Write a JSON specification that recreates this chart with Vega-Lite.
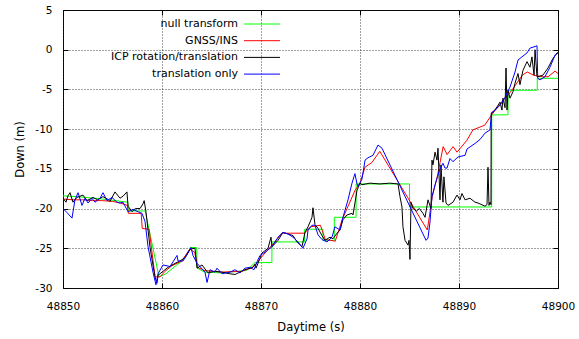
{
  "$schema": "https://vega.github.io/schema/vega-lite/v6.json",
  "width": 495,
  "height": 278,
  "autosize": {"type": "none"},
  "padding": {"left": 63, "top": 10, "right": 21, "bottom": 51},
  "background": "white",
  "config": {
    "font": "DejaVu Sans",
    "view": {"stroke": "black", "strokeWidth": 1},
    "axis": {
      "labelFont": "DejaVu Sans", "labelFontSize": 10.5, "labelColor": "black",
      "titleFont": "DejaVu Sans", "titleFontSize": 11.5, "titleFontWeight": "normal", "titleColor": "black",
      "domain": false, "tickColor": "black", "tickSize": -5,
      "grid": true, "gridColor": "#222222", "gridDash": [1, 2], "gridOpacity": 0.85
    }
  },
  "data": {"values": [
    {"s":"null transform","t":48850.0,"v":-18.4},
    {"s":"null transform","t":48851.5,"v":-18.5},
    {"s":"null transform","t":48854.0,"v":-18.8},
    {"s":"null transform","t":48856.55,"v":-19.2},
    {"s":"null transform","t":48856.6,"v":-20.3},
    {"s":"null transform","t":48858.3,"v":-20.3},
    {"s":"null transform","t":48859.7,"v":-28.6},
    {"s":"null transform","t":48860.4,"v":-28.2},
    {"s":"null transform","t":48861.0,"v":-27.6},
    {"s":"null transform","t":48862.0,"v":-26.6},
    {"s":"null transform","t":48862.8,"v":-25.2},
    {"s":"null transform","t":48862.85,"v":-24.9},
    {"s":"null transform","t":48863.5,"v":-24.9},
    {"s":"null transform","t":48863.55,"v":-27.5},
    {"s":"null transform","t":48864.3,"v":-28.0},
    {"s":"null transform","t":48866.0,"v":-28.1},
    {"s":"null transform","t":48868.5,"v":-27.8},
    {"s":"null transform","t":48869.4,"v":-26.8},
    {"s":"null transform","t":48871.1,"v":-26.8},
    {"s":"null transform","t":48871.11,"v":-24.2},
    {"s":"null transform","t":48874.4,"v":-24.2},
    {"s":"null transform","t":48874.41,"v":-22.6},
    {"s":"null transform","t":48876.25,"v":-22.6},
    {"s":"null transform","t":48876.26,"v":-24.0},
    {"s":"null transform","t":48877.4,"v":-24.0},
    {"s":"null transform","t":48877.41,"v":-21.1},
    {"s":"null transform","t":48879.6,"v":-21.1},
    {"s":"null transform","t":48879.61,"v":-16.9},
    {"s":"null transform","t":48885.0,"v":-16.9},
    {"s":"null transform","t":48885.01,"v":-19.8},
    {"s":"null transform","t":48893.3,"v":-19.8},
    {"s":"null transform","t":48893.31,"v":-8.2},
    {"s":"null transform","t":48894.95,"v":-8.2},
    {"s":"null transform","t":48894.96,"v":-5.1},
    {"s":"null transform","t":48897.9,"v":-5.1},
    {"s":"null transform","t":48897.91,"v":-3.6},
    {"s":"null transform","t":48900.0,"v":-3.6},

    {"s":"GNSS/INS","t":48850.0,"v":-18.8},
    {"s":"GNSS/INS","t":48851.0,"v":-18.9},
    {"s":"GNSS/INS","t":48852.0,"v":-18.9},
    {"s":"GNSS/INS","t":48853.0,"v":-19.0},
    {"s":"GNSS/INS","t":48854.0,"v":-19.0},
    {"s":"GNSS/INS","t":48855.0,"v":-19.1},
    {"s":"GNSS/INS","t":48855.8,"v":-19.3},
    {"s":"GNSS/INS","t":48856.5,"v":-19.6},
    {"s":"GNSS/INS","t":48856.6,"v":-20.6},
    {"s":"GNSS/INS","t":48857.9,"v":-20.6},
    {"s":"GNSS/INS","t":48858.0,"v":-22.5},
    {"s":"GNSS/INS","t":48858.7,"v":-22.6},
    {"s":"GNSS/INS","t":48859.3,"v":-28.6},
    {"s":"GNSS/INS","t":48859.8,"v":-28.6},
    {"s":"GNSS/INS","t":48860.3,"v":-27.9},
    {"s":"GNSS/INS","t":48861.0,"v":-27.2},
    {"s":"GNSS/INS","t":48862.0,"v":-26.6},
    {"s":"GNSS/INS","t":48862.8,"v":-25.1},
    {"s":"GNSS/INS","t":48863.3,"v":-25.5},
    {"s":"GNSS/INS","t":48863.6,"v":-27.4},
    {"s":"GNSS/INS","t":48864.3,"v":-27.8},
    {"s":"GNSS/INS","t":48866.0,"v":-28.0},
    {"s":"GNSS/INS","t":48868.0,"v":-27.9},
    {"s":"GNSS/INS","t":48869.0,"v":-27.5},
    {"s":"GNSS/INS","t":48869.4,"v":-27.1},
    {"s":"GNSS/INS","t":48870.4,"v":-25.6},
    {"s":"GNSS/INS","t":48871.4,"v":-24.2},
    {"s":"GNSS/INS","t":48872.1,"v":-23.1},
    {"s":"GNSS/INS","t":48873.0,"v":-23.1},
    {"s":"GNSS/INS","t":48874.4,"v":-23.1},
    {"s":"GNSS/INS","t":48875.0,"v":-22.3},
    {"s":"GNSS/INS","t":48876.0,"v":-22.1},
    {"s":"GNSS/INS","t":48876.5,"v":-23.9},
    {"s":"GNSS/INS","t":48877.5,"v":-24.1},
    {"s":"GNSS/INS","t":48878.2,"v":-21.4},
    {"s":"GNSS/INS","t":48879.5,"v":-17.7},
    {"s":"GNSS/INS","t":48880.0,"v":-16.8},
    {"s":"GNSS/INS","t":48880.5,"v":-14.8},
    {"s":"GNSS/INS","t":48881.2,"v":-14.2},
    {"s":"GNSS/INS","t":48882.0,"v":-12.8},
    {"s":"GNSS/INS","t":48886.8,"v":-22.7},
    {"s":"GNSS/INS","t":48887.3,"v":-18.5},
    {"s":"GNSS/INS","t":48887.8,"v":-16.0},
    {"s":"GNSS/INS","t":48888.4,"v":-12.2},
    {"s":"GNSS/INS","t":48888.8,"v":-13.2},
    {"s":"GNSS/INS","t":48889.4,"v":-12.2},
    {"s":"GNSS/INS","t":48889.8,"v":-12.9},
    {"s":"GNSS/INS","t":48890.8,"v":-11.4},
    {"s":"GNSS/INS","t":48891.4,"v":-10.1},
    {"s":"GNSS/INS","t":48892.6,"v":-9.5},
    {"s":"GNSS/INS","t":48893.3,"v":-8.2},
    {"s":"GNSS/INS","t":48894.3,"v":-6.6},
    {"s":"GNSS/INS","t":48895.35,"v":-5.1},
    {"s":"GNSS/INS","t":48896.4,"v":-3.2},
    {"s":"GNSS/INS","t":48896.9,"v":-2.8},
    {"s":"GNSS/INS","t":48897.5,"v":-3.2},
    {"s":"GNSS/INS","t":48898.4,"v":-3.4},
    {"s":"GNSS/INS","t":48899.0,"v":-3.4},
    {"s":"GNSS/INS","t":48899.7,"v":-2.7},
    {"s":"GNSS/INS","t":48900.0,"v":-3.0},

    {"s":"ICP rotation/translation","t":48850.0,"v":-18.7},
    {"s":"ICP rotation/translation","t":48850.3,"v":-19.2},
    {"s":"ICP rotation/translation","t":48850.5,"v":-18.4},
    {"s":"ICP rotation/translation","t":48850.71,"v":-18.0},
    {"s":"ICP rotation/translation","t":48851.01,"v":-19.2},
    {"s":"ICP rotation/translation","t":48851.4,"v":-18.6},
    {"s":"ICP rotation/translation","t":48852.02,"v":-18.3},
    {"s":"ICP rotation/translation","t":48852.42,"v":-19.0},
    {"s":"ICP rotation/translation","t":48853.03,"v":-18.6},
    {"s":"ICP rotation/translation","t":48853.5,"v":-18.9},
    {"s":"ICP rotation/translation","t":48854.04,"v":-18.5},
    {"s":"ICP rotation/translation","t":48854.5,"v":-18.8},
    {"s":"ICP rotation/translation","t":48854.75,"v":-19.1},
    {"s":"ICP rotation/translation","t":48855.25,"v":-17.9},
    {"s":"ICP rotation/translation","t":48855.76,"v":-18.7},
    {"s":"ICP rotation/translation","t":48856.1,"v":-18.4},
    {"s":"ICP rotation/translation","t":48856.46,"v":-17.9},
    {"s":"ICP rotation/translation","t":48856.57,"v":-19.7},
    {"s":"ICP rotation/translation","t":48856.97,"v":-20.4},
    {"s":"ICP rotation/translation","t":48857.3,"v":-20.0},
    {"s":"ICP rotation/translation","t":48857.78,"v":-20.0},
    {"s":"ICP rotation/translation","t":48858.08,"v":-19.4},
    {"s":"ICP rotation/translation","t":48858.2,"v":-19.0},
    {"s":"ICP rotation/translation","t":48858.38,"v":-20.4},
    {"s":"ICP rotation/translation","t":48858.79,"v":-24.9},
    {"s":"ICP rotation/translation","t":48859.29,"v":-28.6},
    {"s":"ICP rotation/translation","t":48859.49,"v":-29.4},
    {"s":"ICP rotation/translation","t":48859.6,"v":-28.4},
    {"s":"ICP rotation/translation","t":48860.0,"v":-28.0},
    {"s":"ICP rotation/translation","t":48860.61,"v":-27.4},
    {"s":"ICP rotation/translation","t":48861.31,"v":-26.9},
    {"s":"ICP rotation/translation","t":48861.8,"v":-26.6},
    {"s":"ICP rotation/translation","t":48862.32,"v":-26.2},
    {"s":"ICP rotation/translation","t":48862.83,"v":-25.1},
    {"s":"ICP rotation/translation","t":48863.33,"v":-25.0},
    {"s":"ICP rotation/translation","t":48863.54,"v":-27.5},
    {"s":"ICP rotation/translation","t":48864.04,"v":-27.1},
    {"s":"ICP rotation/translation","t":48864.65,"v":-28.1},
    {"s":"ICP rotation/translation","t":48865.3,"v":-27.9},
    {"s":"ICP rotation/translation","t":48866.06,"v":-28.0},
    {"s":"ICP rotation/translation","t":48866.8,"v":-28.2},
    {"s":"ICP rotation/translation","t":48867.37,"v":-28.3},
    {"s":"ICP rotation/translation","t":48868.38,"v":-27.7},
    {"s":"ICP rotation/translation","t":48869.19,"v":-27.4},
    {"s":"ICP rotation/translation","t":48869.39,"v":-27.0},
    {"s":"ICP rotation/translation","t":48869.5,"v":-27.5},
    {"s":"ICP rotation/translation","t":48870.1,"v":-25.6},
    {"s":"ICP rotation/translation","t":48870.71,"v":-25.0},
    {"s":"ICP rotation/translation","t":48871.01,"v":-23.6},
    {"s":"ICP rotation/translation","t":48871.11,"v":-24.8},
    {"s":"ICP rotation/translation","t":48871.72,"v":-24.0},
    {"s":"ICP rotation/translation","t":48872.22,"v":-23.0},
    {"s":"ICP rotation/translation","t":48872.73,"v":-23.2},
    {"s":"ICP rotation/translation","t":48873.23,"v":-23.4},
    {"s":"ICP rotation/translation","t":48873.64,"v":-24.2},
    {"s":"ICP rotation/translation","t":48874.14,"v":-24.8},
    {"s":"ICP rotation/translation","t":48874.44,"v":-23.0},
    {"s":"ICP rotation/translation","t":48874.75,"v":-22.3},
    {"s":"ICP rotation/translation","t":48875.15,"v":-21.1},
    {"s":"ICP rotation/translation","t":48875.25,"v":-19.9},
    {"s":"ICP rotation/translation","t":48875.45,"v":-22.0},
    {"s":"ICP rotation/translation","t":48875.76,"v":-22.5},
    {"s":"ICP rotation/translation","t":48876.16,"v":-23.4},
    {"s":"ICP rotation/translation","t":48876.46,"v":-24.0},
    {"s":"ICP rotation/translation","t":48876.97,"v":-23.6},
    {"s":"ICP rotation/translation","t":48877.27,"v":-23.8},
    {"s":"ICP rotation/translation","t":48877.68,"v":-23.1},
    {"s":"ICP rotation/translation","t":48877.98,"v":-22.7},
    {"s":"ICP rotation/translation","t":48878.28,"v":-21.4},
    {"s":"ICP rotation/translation","t":48878.69,"v":-20.8},
    {"s":"ICP rotation/translation","t":48879.19,"v":-20.6},
    {"s":"ICP rotation/translation","t":48879.29,"v":-20.8},
    {"s":"ICP rotation/translation","t":48879.49,"v":-19.3},
    {"s":"ICP rotation/translation","t":48879.7,"v":-17.7},
    {"s":"ICP rotation/translation","t":48880.0,"v":-16.8},
    {"s":"ICP rotation/translation","t":48880.2,"v":-17.0},
    {"s":"ICP rotation/translation","t":48881.0,"v":-16.8},
    {"s":"ICP rotation/translation","t":48882.0,"v":-16.9},
    {"s":"ICP rotation/translation","t":48883.0,"v":-16.8},
    {"s":"ICP rotation/translation","t":48883.84,"v":-16.9},
    {"s":"ICP rotation/translation","t":48884.04,"v":-18.5},
    {"s":"ICP rotation/translation","t":48884.24,"v":-19.8},
    {"s":"ICP rotation/translation","t":48884.34,"v":-22.3},
    {"s":"ICP rotation/translation","t":48884.55,"v":-24.0},
    {"s":"ICP rotation/translation","t":48884.85,"v":-24.6},
    {"s":"ICP rotation/translation","t":48884.95,"v":-24.0},
    {"s":"ICP rotation/translation","t":48885.0,"v":-25.2},
    {"s":"ICP rotation/translation","t":48885.05,"v":-26.4},
    {"s":"ICP rotation/translation","t":48885.15,"v":-19.2},
    {"s":"ICP rotation/translation","t":48885.35,"v":-20.0},
    {"s":"ICP rotation/translation","t":48885.7,"v":-20.3},
    {"s":"ICP rotation/translation","t":48886.0,"v":-20.0},
    {"s":"ICP rotation/translation","t":48886.36,"v":-20.6},
    {"s":"ICP rotation/translation","t":48886.57,"v":-21.1},
    {"s":"ICP rotation/translation","t":48886.87,"v":-18.9},
    {"s":"ICP rotation/translation","t":48887.17,"v":-20.0},
    {"s":"ICP rotation/translation","t":48887.27,"v":-13.9},
    {"s":"ICP rotation/translation","t":48887.37,"v":-14.5},
    {"s":"ICP rotation/translation","t":48887.58,"v":-12.9},
    {"s":"ICP rotation/translation","t":48887.78,"v":-13.9},
    {"s":"ICP rotation/translation","t":48887.88,"v":-12.4},
    {"s":"ICP rotation/translation","t":48888.08,"v":-18.9},
    {"s":"ICP rotation/translation","t":48888.18,"v":-14.5},
    {"s":"ICP rotation/translation","t":48888.38,"v":-19.2},
    {"s":"ICP rotation/translation","t":48888.48,"v":-16.0},
    {"s":"ICP rotation/translation","t":48888.69,"v":-19.3},
    {"s":"ICP rotation/translation","t":48888.89,"v":-19.6},
    {"s":"ICP rotation/translation","t":48889.39,"v":-19.2},
    {"s":"ICP rotation/translation","t":48889.8,"v":-18.3},
    {"s":"ICP rotation/translation","t":48890.1,"v":-18.9},
    {"s":"ICP rotation/translation","t":48890.3,"v":-18.1},
    {"s":"ICP rotation/translation","t":48890.61,"v":-18.9},
    {"s":"ICP rotation/translation","t":48891.11,"v":-18.7},
    {"s":"ICP rotation/translation","t":48891.62,"v":-19.2},
    {"s":"ICP rotation/translation","t":48891.92,"v":-19.3},
    {"s":"ICP rotation/translation","t":48892.63,"v":-19.7},
    {"s":"ICP rotation/translation","t":48892.83,"v":-19.5},
    {"s":"ICP rotation/translation","t":48892.93,"v":-14.8},
    {"s":"ICP rotation/translation","t":48893.03,"v":-19.6},
    {"s":"ICP rotation/translation","t":48893.13,"v":-19.2},
    {"s":"ICP rotation/translation","t":48893.23,"v":-19.5},
    {"s":"ICP rotation/translation","t":48893.25,"v":-8.0},
    {"s":"ICP rotation/translation","t":48893.43,"v":-7.9},
    {"s":"ICP rotation/translation","t":48893.84,"v":-7.2},
    {"s":"ICP rotation/translation","t":48894.14,"v":-6.6},
    {"s":"ICP rotation/translation","t":48894.34,"v":-7.6},
    {"s":"ICP rotation/translation","t":48894.44,"v":-6.1},
    {"s":"ICP rotation/translation","t":48894.65,"v":-7.3},
    {"s":"ICP rotation/translation","t":48894.75,"v":-2.3},
    {"s":"ICP rotation/translation","t":48894.85,"v":-7.6},
    {"s":"ICP rotation/translation","t":48894.95,"v":-5.1},
    {"s":"ICP rotation/translation","t":48895.15,"v":-6.1},
    {"s":"ICP rotation/translation","t":48895.45,"v":-5.3},
    {"s":"ICP rotation/translation","t":48895.66,"v":-4.2},
    {"s":"ICP rotation/translation","t":48895.96,"v":-3.0},
    {"s":"ICP rotation/translation","t":48896.16,"v":-4.4},
    {"s":"ICP rotation/translation","t":48896.46,"v":-2.6},
    {"s":"ICP rotation/translation","t":48896.87,"v":-1.5},
    {"s":"ICP rotation/translation","t":48897.17,"v":-2.2},
    {"s":"ICP rotation/translation","t":48897.37,"v":-0.9},
    {"s":"ICP rotation/translation","t":48897.58,"v":-3.2},
    {"s":"ICP rotation/translation","t":48897.68,"v":0.0},
    {"s":"ICP rotation/translation","t":48897.88,"v":-3.4},
    {"s":"ICP rotation/translation","t":48897.98,"v":-3.4},
    {"s":"ICP rotation/translation","t":48898.48,"v":-3.2},
    {"s":"ICP rotation/translation","t":48898.99,"v":-2.3},
    {"s":"ICP rotation/translation","t":48899.49,"v":-1.1},
    {"s":"ICP rotation/translation","t":48899.9,"v":-0.4},
    {"s":"ICP rotation/translation","t":48900.0,"v":-0.4},

    {"s":"translation only","t":48850.0,"v":-20.0},
    {"s":"translation only","t":48850.4,"v":-20.5},
    {"s":"translation only","t":48850.91,"v":-21.2},
    {"s":"translation only","t":48851.21,"v":-18.9},
    {"s":"translation only","t":48851.52,"v":-18.0},
    {"s":"translation only","t":48851.92,"v":-19.6},
    {"s":"translation only","t":48852.22,"v":-18.7},
    {"s":"translation only","t":48852.53,"v":-19.3},
    {"s":"translation only","t":48852.93,"v":-18.7},
    {"s":"translation only","t":48853.23,"v":-19.2},
    {"s":"translation only","t":48853.74,"v":-18.7},
    {"s":"translation only","t":48854.04,"v":-18.0},
    {"s":"translation only","t":48854.44,"v":-19.0},
    {"s":"translation only","t":48854.95,"v":-18.6},
    {"s":"translation only","t":48855.45,"v":-19.2},
    {"s":"translation only","t":48855.76,"v":-19.3},
    {"s":"translation only","t":48856.06,"v":-19.2},
    {"s":"translation only","t":48856.57,"v":-20.4},
    {"s":"translation only","t":48857.07,"v":-20.1},
    {"s":"translation only","t":48857.58,"v":-20.4},
    {"s":"translation only","t":48857.98,"v":-20.6},
    {"s":"translation only","t":48858.28,"v":-21.6},
    {"s":"translation only","t":48858.59,"v":-24.8},
    {"s":"translation only","t":48859.09,"v":-28.0},
    {"s":"translation only","t":48859.39,"v":-29.6},
    {"s":"translation only","t":48859.6,"v":-28.2},
    {"s":"translation only","t":48860.1,"v":-27.1},
    {"s":"translation only","t":48860.81,"v":-27.3},
    {"s":"translation only","t":48861.52,"v":-25.9},
    {"s":"translation only","t":48861.62,"v":-26.6},
    {"s":"translation only","t":48862.12,"v":-26.6},
    {"s":"translation only","t":48862.63,"v":-25.6},
    {"s":"translation only","t":48862.93,"v":-24.9},
    {"s":"translation only","t":48863.13,"v":-25.9},
    {"s":"translation only","t":48863.54,"v":-26.9},
    {"s":"translation only","t":48863.84,"v":-27.3},
    {"s":"translation only","t":48864.34,"v":-28.0},
    {"s":"translation only","t":48864.55,"v":-29.3},
    {"s":"translation only","t":48864.85,"v":-27.7},
    {"s":"translation only","t":48865.35,"v":-28.0},
    {"s":"translation only","t":48865.56,"v":-27.5},
    {"s":"translation only","t":48866.06,"v":-28.2},
    {"s":"translation only","t":48866.87,"v":-28.0},
    {"s":"translation only","t":48867.37,"v":-27.7},
    {"s":"translation only","t":48867.88,"v":-28.1},
    {"s":"translation only","t":48868.38,"v":-27.5},
    {"s":"translation only","t":48868.89,"v":-27.4},
    {"s":"translation only","t":48869.29,"v":-27.7},
    {"s":"translation only","t":48869.6,"v":-26.7},
    {"s":"translation only","t":48869.9,"v":-25.9},
    {"s":"translation only","t":48870.4,"v":-25.5},
    {"s":"translation only","t":48871.11,"v":-24.8},
    {"s":"translation only","t":48871.72,"v":-23.6},
    {"s":"translation only","t":48872.22,"v":-23.0},
    {"s":"translation only","t":48872.73,"v":-23.2},
    {"s":"translation only","t":48873.23,"v":-23.6},
    {"s":"translation only","t":48873.74,"v":-24.2},
    {"s":"translation only","t":48874.24,"v":-25.0},
    {"s":"translation only","t":48874.65,"v":-23.8},
    {"s":"translation only","t":48874.75,"v":-22.7},
    {"s":"translation only","t":48875.15,"v":-22.1},
    {"s":"translation only","t":48875.45,"v":-22.1},
    {"s":"translation only","t":48875.76,"v":-23.3},
    {"s":"translation only","t":48876.16,"v":-23.9},
    {"s":"translation only","t":48876.67,"v":-24.2},
    {"s":"translation only","t":48877.17,"v":-23.6},
    {"s":"translation only","t":48877.47,"v":-22.3},
    {"s":"translation only","t":48877.98,"v":-22.7},
    {"s":"translation only","t":48878.28,"v":-21.1},
    {"s":"translation only","t":48878.79,"v":-18.9},
    {"s":"translation only","t":48879.19,"v":-16.8},
    {"s":"translation only","t":48879.49,"v":-15.6},
    {"s":"translation only","t":48879.7,"v":-16.9},
    {"s":"translation only","t":48879.8,"v":-17.2},
    {"s":"translation only","t":48880.2,"v":-16.3},
    {"s":"translation only","t":48880.51,"v":-13.9},
    {"s":"translation only","t":48880.81,"v":-13.6},
    {"s":"translation only","t":48881.31,"v":-13.3},
    {"s":"translation only","t":48881.82,"v":-12.0},
    {"s":"translation only","t":48882.22,"v":-12.4},
    {"s":"translation only","t":48886.67,"v":-24.0},
    {"s":"translation only","t":48886.87,"v":-23.7},
    {"s":"translation only","t":48887.07,"v":-21.7},
    {"s":"translation only","t":48887.27,"v":-18.5},
    {"s":"translation only","t":48887.58,"v":-17.0},
    {"s":"translation only","t":48888.08,"v":-15.0},
    {"s":"translation only","t":48888.38,"v":-14.3},
    {"s":"translation only","t":48888.59,"v":-14.9},
    {"s":"translation only","t":48888.79,"v":-14.9},
    {"s":"translation only","t":48889.09,"v":-13.7},
    {"s":"translation only","t":48889.39,"v":-14.1},
    {"s":"translation only","t":48889.9,"v":-13.5},
    {"s":"translation only","t":48890.61,"v":-13.3},
    {"s":"translation only","t":48890.81,"v":-12.5},
    {"s":"translation only","t":48891.62,"v":-11.8},
    {"s":"translation only","t":48892.12,"v":-11.3},
    {"s":"translation only","t":48892.63,"v":-10.5},
    {"s":"translation only","t":48893.13,"v":-10.1},
    {"s":"translation only","t":48893.3,"v":-7.9},
    {"s":"translation only","t":48893.64,"v":-7.6},
    {"s":"translation only","t":48894.14,"v":-7.0},
    {"s":"translation only","t":48894.65,"v":-6.0},
    {"s":"translation only","t":48895.15,"v":-4.7},
    {"s":"translation only","t":48895.66,"v":-2.8},
    {"s":"translation only","t":48895.96,"v":-1.3},
    {"s":"translation only","t":48896.36,"v":-0.9},
    {"s":"translation only","t":48896.87,"v":-0.4},
    {"s":"translation only","t":48897.17,"v":0.2},
    {"s":"translation only","t":48897.68,"v":0.4},
    {"s":"translation only","t":48897.88,"v":0.5},
    {"s":"translation only","t":48897.95,"v":-3.6},
    {"s":"translation only","t":48898.18,"v":-3.8},
    {"s":"translation only","t":48898.69,"v":-3.4},
    {"s":"translation only","t":48899.19,"v":-2.2},
    {"s":"translation only","t":48899.7,"v":-0.7},
    {"s":"translation only","t":48900.0,"v":-0.4}
  ]},
  "layer": [
    {
      "mark": {"type": "line", "strokeWidth": 1, "clip": true},
      "encoding": {
        "x": {"field": "t", "type": "quantitative",
          "scale": {"domain": [48850, 48900], "nice": false, "zero": false},
          "axis": {"title": "Daytime (s)", "values": [48850, 48860, 48870, 48880, 48890, 48900], "format": "d", "labelPadding": 18, "titlePadding": 10, "labelFlush": false}},
        "y": {"field": "v", "type": "quantitative",
          "scale": {"domain": [-30, 5], "nice": false, "zero": false},
          "axis": {"title": "Down (m)", "values": [-30, -25, -20, -15, -10, -5, 0, 5], "labelExpr": "'' + datum.value", "labelPadding": 16, "titlePadding": 9}},
        "color": {"field": "s", "type": "nominal",
          "scale": {"domain": ["null transform", "GNSS/INS", "ICP rotation/translation", "translation only"], "range": ["#00ff00", "#ff0000", "#000000", "#0000ff"]},
          "legend": {"title": null, "orient": "none", "legendX": 193.5, "legendY": 8.5, "padding": 0,
            "symbolType": "M-4,0H4", "symbolSize": 81, "symbolStrokeWidth": 1,
            "labelAlign": "right", "labelOffset": -29.5, "labelFont": "DejaVu Sans", "labelFontSize": 11, "labelColor": "black",
            "rowPadding": 4.7, "labelLimit": 300}}
      }
    },
    {
      "mark": {"type": "line", "opacity": 0},
      "encoding": {
        "x": {"field": "t", "type": "quantitative",
          "axis": {"orient": "top", "labels": false, "title": null, "grid": false, "values": [48850, 48860, 48870, 48880, 48890, 48900]}},
        "y": {"field": "v", "type": "quantitative",
          "axis": {"orient": "right", "labels": false, "title": null, "grid": false, "values": [-30, -25, -20, -15, -10, -5, 0, 5]}}
      }
    }
  ],
  "resolve": {"axis": {"x": "independent", "y": "independent"}}
}
